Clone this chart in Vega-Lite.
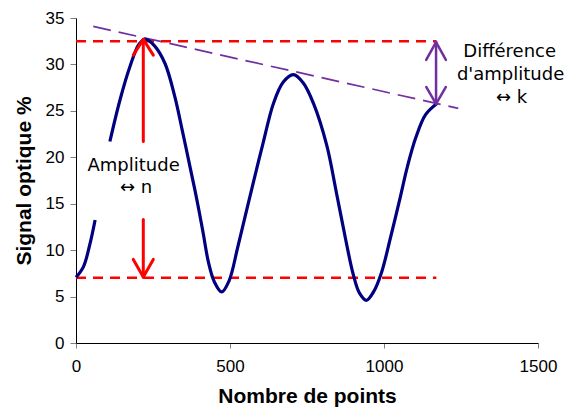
{
  "$schema": "https://vega.github.io/schema/vega-lite/v6.json",
  "autosize": {"type": "none"},
  "width": 462,
  "height": 325,
  "padding": {"left": 76, "top": 18, "right": 28, "bottom": 64},
  "background": "white",
  "config": {
    "view": {"stroke": null},
    "axis": {
      "grid": false,
      "domainColor": "#000000",
      "domainWidth": 1,
      "tickColor": "#808080",
      "labelFont": "Liberation Sans",
      "labelFontSize": 17,
      "labelColor": "#000000",
      "labelFlush": false,
      "labelOverlap": false,
      "titleFont": "Liberation Sans",
      "titleFontSize": 21,
      "titleFontWeight": "bold",
      "titleColor": "#000000"
    }
  },
  "layer": [
    {
      "data": {"values": [
        {"x": 0, "x2": 1170, "y": 32.5},
        {"x": 0, "x2": 1170, "y": 7.03}
      ]},
      "mark": {"type": "rule", "color": "#FF0000", "strokeWidth": 2.5, "strokeDash": [10, 7]},
      "encoding": {
        "x": {"field": "x", "type": "quantitative", "scale": {"domain": [0, 1500], "nice": false},
              "axis": {"values": [0, 500, 1000, 1500], "format": "d", "title": "Nombre de points", "tickSize": 5, "labelPadding": 10, "titlePadding": 11}},
        "x2": {"field": "x2"},
        "y": {"field": "y", "type": "quantitative", "scale": {"domain": [0, 35], "nice": false},
              "axis": {"values": [0, 5, 10, 15, 20, 25, 30, 35], "format": "d", "title": "Signal optique %", "tickSize": 6, "labelPadding": 6, "titlePadding": 11}}
      }
    },
    {
      "data": {"values": [{"x": 56, "y": 34.1, "x2": 1241, "y2": 25.27}]},
      "mark": {"type": "rule", "color": "#7030A0", "strokeWidth": 1.7, "strokeDash": [18, 8]},
      "encoding": {
        "x": {"field": "x", "type": "quantitative"},
        "y": {"field": "y", "type": "quantitative"},
        "x2": {"field": "x2"},
        "y2": {"field": "y2"}
      }
    },
    {
      "data": {"values": [
        {"seg": 1, "x": 0, "y": 7.07},
        {"seg": 1, "x": 24, "y": 8.2},
        {"seg": 1, "x": 45.5, "y": 10.7},
        {"seg": 1, "x": 62, "y": 13.25},
        {"seg": 2, "x": 110, "y": 21.7},
        {"seg": 2, "x": 143, "y": 26.2},
        {"seg": 2, "x": 175, "y": 29.75},
        {"seg": 2, "x": 205, "y": 32.2},
        {"seg": 2, "x": 226, "y": 32.7},
        {"seg": 2, "x": 255, "y": 32.0},
        {"seg": 2, "x": 289, "y": 30.1},
        {"seg": 2, "x": 321, "y": 26.5},
        {"seg": 2, "x": 345, "y": 22.9},
        {"seg": 2, "x": 370, "y": 19.0},
        {"seg": 2, "x": 392, "y": 15.5},
        {"seg": 2, "x": 412, "y": 12.0},
        {"seg": 2, "x": 430, "y": 8.7},
        {"seg": 2, "x": 449, "y": 6.6},
        {"seg": 2, "x": 473, "y": 5.5},
        {"seg": 2, "x": 497, "y": 6.7},
        {"seg": 2, "x": 525, "y": 10.3},
        {"seg": 2, "x": 554, "y": 14.3},
        {"seg": 2, "x": 581, "y": 18.0},
        {"seg": 2, "x": 608, "y": 21.6},
        {"seg": 2, "x": 641, "y": 25.8},
        {"seg": 2, "x": 673, "y": 28.1},
        {"seg": 2, "x": 706, "y": 28.9},
        {"seg": 2, "x": 738, "y": 28.0},
        {"seg": 2, "x": 771, "y": 25.8},
        {"seg": 2, "x": 814, "y": 21.3},
        {"seg": 2, "x": 846, "y": 16.1},
        {"seg": 2, "x": 877, "y": 10.9},
        {"seg": 2, "x": 900, "y": 7.4},
        {"seg": 2, "x": 920, "y": 5.4},
        {"seg": 2, "x": 943, "y": 4.6},
        {"seg": 2, "x": 966, "y": 5.5},
        {"seg": 2, "x": 992, "y": 7.6},
        {"seg": 2, "x": 1020, "y": 11.2},
        {"seg": 2, "x": 1050, "y": 15.3},
        {"seg": 2, "x": 1076, "y": 19.0},
        {"seg": 2, "x": 1103, "y": 22.1},
        {"seg": 2, "x": 1135, "y": 24.6},
        {"seg": 2, "x": 1172, "y": 25.8}
      ]},
      "mark": {"type": "line", "color": "#000080", "strokeWidth": 3.2, "interpolate": "catmull-rom"},
      "encoding": {
        "x": {"field": "x", "type": "quantitative"},
        "y": {"field": "y", "type": "quantitative"},
        "detail": {"field": "seg", "type": "nominal"}
      }
    },
    {
      "data": {"values": [
        {"x": 218.5, "y": 21.7, "x2": 218.5, "y2": 32.7},
        {"x": 218.5, "y": 32.7, "x2": 186, "y2": 31.0},
        {"x": 218.5, "y": 32.7, "x2": 251, "y2": 31.0},
        {"x": 218.5, "y": 13.3, "x2": 218.5, "y2": 7.1},
        {"x": 218.5, "y": 7.1, "x2": 186, "y2": 9.0},
        {"x": 218.5, "y": 7.1, "x2": 251, "y2": 9.0}
      ]},
      "mark": {"type": "rule", "color": "#FF0000", "strokeWidth": 3, "strokeCap": "round"},
      "encoding": {
        "x": {"field": "x", "type": "quantitative"},
        "y": {"field": "y", "type": "quantitative"},
        "x2": {"field": "x2"},
        "y2": {"field": "y2"}
      }
    },
    {
      "data": {"values": [
        {"x": 1169, "y": 32.41, "x2": 1169, "y2": 25.74},
        {"x": 1169, "y": 32.41, "x2": 1137, "y2": 30.48},
        {"x": 1169, "y": 32.41, "x2": 1201, "y2": 30.48},
        {"x": 1169, "y": 25.74, "x2": 1137, "y2": 27.57},
        {"x": 1169, "y": 25.74, "x2": 1201, "y2": 27.57}
      ]},
      "mark": {"type": "rule", "color": "#7030A0", "strokeWidth": 2.5, "strokeCap": "round"},
      "encoding": {
        "x": {"field": "x", "type": "quantitative"},
        "y": {"field": "y", "type": "quantitative"},
        "x2": {"field": "x2"},
        "y2": {"field": "y2"}
      }
    },
    {
      "data": {"values": [
        {"t": "Amplitude", "x": 187, "y": 18.5},
        {"t": "↔ n", "x": 195, "y": 16.15},
        {"t": "Différence", "x": 1408, "y": 30.77},
        {"t": "d'amplitude", "x": 1411, "y": 28.3},
        {"t": "↔ k", "x": 1414, "y": 25.9}
      ]},
      "mark": {"type": "text", "font": "DejaVu Sans", "fontSize": 18, "color": "#000000", "align": "center", "baseline": "alphabetic", "clip": false},
      "encoding": {
        "x": {"field": "x", "type": "quantitative"},
        "y": {"field": "y", "type": "quantitative"},
        "text": {"field": "t"}
      }
    }
  ]
}
